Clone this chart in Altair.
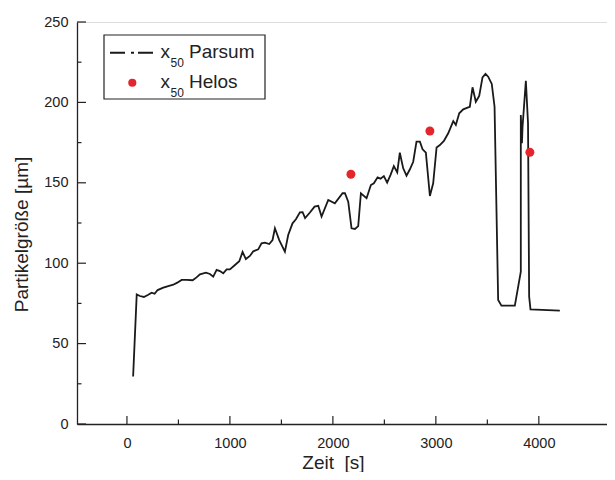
import altair as alt
import pandas as pd

# ---- data ----
parsum_t = [60, 95, 126, 165, 207, 240, 269, 298, 353, 401, 450, 489, 531, 579, 638, 676,
            709, 767, 806, 838, 871, 903, 935, 968, 1000, 1049, 1091, 1123, 1155, 1194, 1227,
            1275, 1307, 1340, 1382, 1414, 1437, 1479, 1534, 1566, 1608, 1641, 1680, 1706,
            1730, 1777, 1822, 1858, 1890, 1955, 2019, 2094, 2117, 2149, 2181, 2214, 2246,
            2272, 2327, 2369, 2398, 2434, 2463, 2495, 2527, 2560, 2592, 2625, 2650, 2683,
            2715, 2748, 2780, 2812, 2845, 2871, 2903, 2942, 2974, 3007, 3039, 3078, 3120,
            3169, 3194, 3227, 3266, 3314, 3330, 3356, 3388, 3421, 3453, 3482, 3508, 3543,
            3570, 3605, 3637, 3767, 3825, 3825, 3836, 3842, 3874, 3895, 3906, 3919, 4204]
parsum_v = [29.5, 80.6, 79.6, 79.0, 80.4, 81.7, 81.0, 83.3, 84.8, 85.8, 86.6, 87.9, 89.6, 89.6,
            89.4, 91.2, 93.1, 94.1, 93.3, 91.6, 95.8, 95.1, 93.7, 96.2, 96.2, 98.9, 101.2, 107.0,
            102.6, 104.5, 107.4, 108.6, 112.4, 112.8, 111.9, 114.4, 121.7, 114.4, 107.2, 117.5,
            124.8, 127.3, 131.6, 131.7, 128.0, 131.5, 135.2, 135.7, 129.0, 139.3, 137.2, 143.5,
            143.5, 138.3, 121.7, 121.3, 123.1, 143.5, 140.4, 148.6, 149.7, 153.4, 152.6, 154.2,
            150.1, 154.9, 160.4, 156.5, 168.7, 159.0, 154.4, 158.4, 163.1, 175.6, 175.6, 170.8,
            168.7, 141.8, 149.7, 172.0, 173.5, 176.0, 180.8, 188.4, 186.0, 193.2, 195.7, 196.9,
            197.3, 209.4, 200.4, 204.0, 215.6, 217.7, 216.0, 211.5, 197.3, 77.1, 73.6, 73.6,
            94.7, 192.2, 174.6, 185.0, 213.5, 187.0, 79.2, 71.3, 70.5]
helos_t = [2175, 2942, 3913]
helos_v = [155.3, 182.2, 169.0]

x_major = [0, 1000, 2000, 3000, 4000]
x_minor = [500, 1500, 2500, 3500]
y_major = [0, 50, 100, 150, 200, 250]
y_minor = [25, 75, 125, 175, 225]

legend_names = ["Parsum", "Helos"]
legend_sym = "x"
legend_sub = "50"

FONT = "Liberation Sans"
INK = "#222222"
RED = "#e3262b"
W, H = 530, 402

xs = alt.Scale(domain=[-485, 4662], nice=False, zero=False)
ys = alt.Scale(domain=[0, 250], nice=False, zero=False)

df_line = pd.DataFrame({"t": parsum_t, "v": parsum_v, "i": range(len(parsum_t))})
df_pts = pd.DataFrame({"t": helos_t, "v": helos_v})

x_axis = alt.Axis(values=x_major, format="d", ticks=False, grid=False, labelPadding=12,
                  labelFont=FONT, labelFontSize=14.5, labelColor=INK,
                  domainColor=INK, domainWidth=1.3,
                  title="Zeit\u00a0 [s]", titleFont=FONT, titleFontSize=19,
                  titleFontWeight="normal", titleColor=INK,
                  titleX=256, titleY=44, titleBaseline="alphabetic", titleAlign="center")
y_axis = alt.Axis(values=y_major, format="d", ticks=False, grid=False, labelPadding=9,
                  labelFont=FONT, labelFontSize=14.5, labelColor=INK,
                  domainColor=INK, domainWidth=1.3,
                  title="Partikelgröße [µm]", titleFont=FONT, titleFontSize=19,
                  titleFontWeight="normal", titleColor=INK,
                  titleX=-50, titleY=212, titleBaseline="alphabetic", titleAlign="center")

line = alt.Chart(df_line).mark_line(color="#1a1a1a", strokeWidth=1.8).encode(
    x=alt.X("t:Q", scale=xs, axis=x_axis),
    y=alt.Y("v:Q", scale=ys, axis=y_axis),
    order="i:Q",
)
pts = alt.Chart(df_pts).mark_circle(color=RED, opacity=1, size=80).encode(
    x=alt.X("t:Q", scale=xs), y=alt.Y("v:Q", scale=ys)
)

def xticks(vals, length):
    return alt.Chart(pd.DataFrame({"t": vals})).mark_rule(color=INK, strokeWidth=1.2).encode(
        x=alt.X("t:Q", scale=xs), y=alt.value(H), y2=alt.value(H - length))

def yticks(vals, length):
    return alt.Chart(pd.DataFrame({"v": vals})).mark_rule(color=INK, strokeWidth=1.2).encode(
        y=alt.Y("v:Q", scale=ys), x=alt.value(0), x2=alt.value(length))

ticks = [xticks(x_major, 8), xticks(x_minor, 4.5), yticks(y_major, 9), yticks(y_minor, 4.5)]

# ---- manual legend ----
one = pd.DataFrame({"a": [0]})
box = alt.Chart(one).mark_rect(fill="white", stroke=INK, strokeWidth=1.2).encode(
    x=alt.value(27), x2=alt.value(188), y=alt.value(13), y2=alt.value(77))
leg_line = alt.Chart(one).mark_rule(color="#1a1a1a", strokeWidth=2,
                                    strokeDash=[15, 6, 3, 4]).encode(
    x=alt.value(33), x2=alt.value(76), y=alt.value(30.7))
leg_dot = alt.Chart(one).mark_circle(color=RED, opacity=1, size=66).encode(
    x=alt.value(55.3), y=alt.value(60.7))

leg_texts = []
for k, (name, base) in enumerate(zip(legend_names, [36.3, 66.3])):
    leg_texts.append(alt.Chart(one).mark_text(align="left", baseline="alphabetic", font=FONT,
                                              fontSize=19, color=INK).encode(
        x=alt.value(83.5), y=alt.value(base), text=alt.value(legend_sym)))
    leg_texts.append(alt.Chart(one).mark_text(align="left", baseline="alphabetic", font=FONT,
                                              fontSize=12, color=INK).encode(
        x=alt.value(93.5), y=alt.value(base + 8.2), text=alt.value(legend_sub)))
    leg_texts.append(alt.Chart(one).mark_text(align="left", baseline="alphabetic", font=FONT,
                                              fontSize=19, color=INK).encode(
        x=alt.value(112), y=alt.value(base), text=alt.value(name)))

chart = alt.layer(line, *ticks, pts, box, leg_line, leg_dot, *leg_texts).properties(
    width=W, height=H,
    autosize=alt.AutoSizeParams(type="none"),
    padding={"left": 69, "top": 14, "right": 0, "bottom": 48},
).configure_view(stroke=None).configure(background="white")

chart.save("out.html", embed_options={"renderer": "svg", "actions": False})
